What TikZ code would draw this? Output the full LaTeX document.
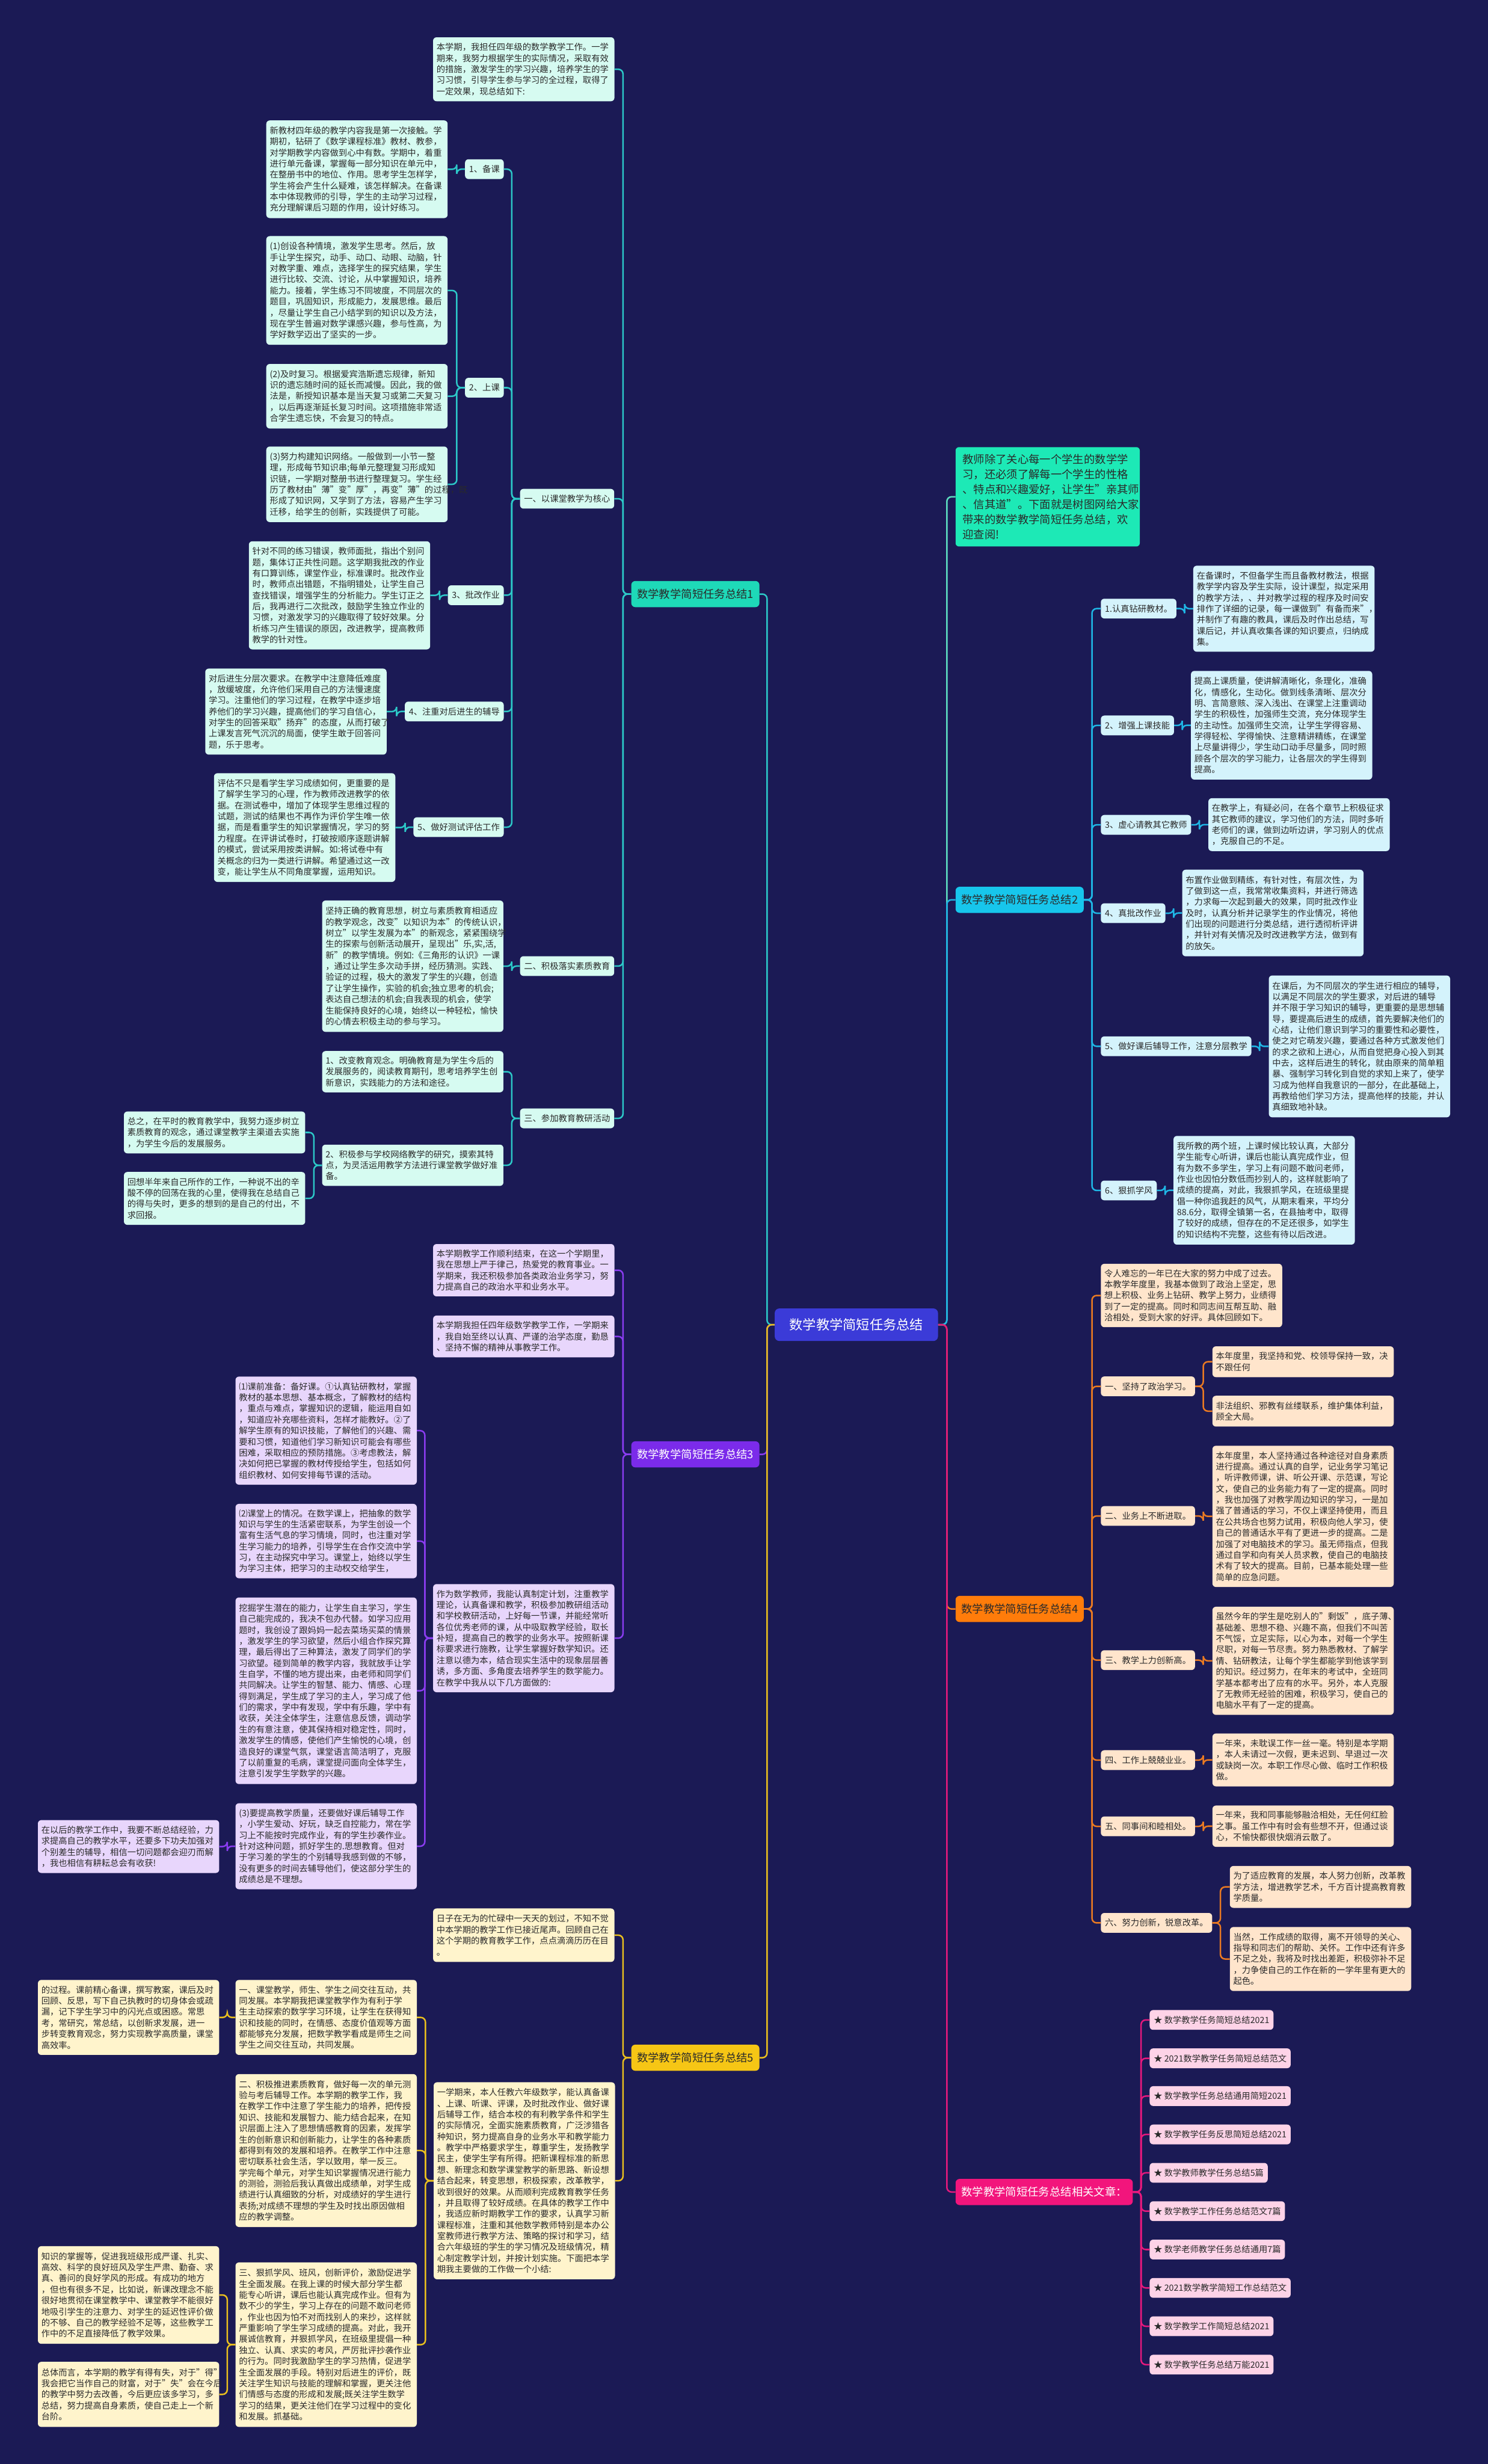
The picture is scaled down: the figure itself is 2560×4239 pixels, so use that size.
\documentclass[tikz,border=0pt]{standalone}
\usepackage{fontspec}
\setmainfont{Noto Sans CJK SC}
\definecolor{bgc}{HTML}{1B1A55}
\definecolor{txt}{HTML}{2A2A2A}
\definecolor{centerc}{HTML}{3B3BD8}
\definecolor{c1lab}{HTML}{1ED9B8}
\definecolor{c1line}{HTML}{2CC8C8}
\definecolor{c1box}{HTML}{D6FBF1}
\definecolor{introc}{HTML}{1DE9B6}
\definecolor{introline}{HTML}{5CDDC0}
\definecolor{c2lab}{HTML}{17C6EC}
\definecolor{c2line}{HTML}{1FB6E5}
\definecolor{c2box}{HTML}{D4F3FC}
\definecolor{c3lab}{HTML}{7B2BEA}
\definecolor{c3line}{HTML}{8A3CF0}
\definecolor{c3box}{HTML}{E8D6FC}
\definecolor{c4lab}{HTML}{FF7C0A}
\definecolor{c4line}{HTML}{EA7A22}
\definecolor{c4box}{HTML}{FFE5CC}
\definecolor{c5lab}{HTML}{F6C615}
\definecolor{c5line}{HTML}{E9BF1E}
\definecolor{c5box}{HTML}{FFF4CC}
\definecolor{c6lab}{HTML}{F2157C}
\definecolor{c6line}{HTML}{E5197D}
\definecolor{c6box}{HTML}{FDD3E7}
\tikzset{
 tbox/.style={rounded corners=6pt, inner xsep=6pt, inner ysep=0pt, text width=300pt, align=left, anchor=north west, font=\fontsize{14.8}{19}\selectfont, text=txt},
 lbl/.style={rounded corners=6pt, inner xsep=7pt, inner ysep=0pt, minimum height=34pt, font=\fontsize{14.8}{19}\selectfont, text=txt},
 blbl/.style={rounded corners=7pt, inner xsep=10pt, inner ysep=0pt, minimum height=45pt, font=\fontsize{19}{24}\selectfont, anchor=west},
 conn/.style={line width=2.6pt, rounded corners=8pt},
 item/.style={lbl, fill=c6box, anchor=west},
}
\newcommand\tbx[6]{\node[tbox,fill=#2,minimum height=#5pt] (#1) at (#3,#4) {#6};}
\newcommand\cnl[3]{\draw[conn,#1] (#2.west) -- ++(-14,0) |- (#3.east);}
\newcommand\cnr[3]{\draw[conn,#1] (#2.east) -- ++(14,0) |- (#3.west);}
\begin{document}
\begin{tikzpicture}[x=1pt,y=-1pt]
\fill[bgc] (0,0) rectangle (2560,4239);
\useasboundingbox (0,0) rectangle (2560,4239);

% center
\node[fill=centerc, text=white, rounded corners=8pt, minimum width=281pt, minimum height=56pt, inner sep=0pt, font=\fontsize{23}{28}\selectfont] (C) at (1473.5,2279) {数学教学简短任务总结};

% branch labels
\node[blbl, fill=c1lab, text=txt] (B1) at (1086,1022) {数学教学简短任务总结1};
\node[blbl, fill=c3lab, text=white] (B3) at (1086,2502) {数学教学简短任务总结3};
\node[blbl, fill=c5lab, text=txt] (B5) at (1086,3540) {数学教学简短任务总结5};
\node[blbl, fill=c2lab, text=txt] (B2) at (1644,1548) {数学教学简短任务总结2};
\node[blbl, fill=c4lab, text=txt] (B4) at (1644,2768) {数学教学简短任务总结4};
\node[blbl, fill=c6lab, text=white] (BR) at (1644,3771) {数学教学简短任务总结相关文章：};
\node[rounded corners=6pt, fill=introc, text=txt, anchor=north west, inner xsep=12pt, inner ysep=0pt, text width=293pt, minimum height=171pt, align=left, font=\fontsize{19}{25.7}\selectfont] (I) at (1644,769) {教师除了关心每一个学生的数学学\\习，还必须了解每一个学生的性格\\、特点和兴趣爱好，让学生"亲其师\\、信其道"。下面就是树图网给大家\\带来的数学教学简短任务总结，欢\\迎查阅!};

% ===== Branch 1 =====
\tbx{T0}{c1box}{745}{64}{110}{本学期，我担任四年级的数学教学工作。一学\\期来，我努力根据学生的实际情况，采取有效\\的措施，激发学生的学习兴趣，培养学生的学\\习习惯，引导学生参与学习的全过程，取得了\\一定效果，现总结如下:}
\node[lbl, fill=c1box, anchor=east] (L1) at (1057,858) {一、以课堂教学为核心};
\node[lbl, fill=c1box, anchor=east] (A1) at (867,291) {1、备课};
\node[lbl, fill=c1box, anchor=east] (A2) at (867,667) {2、上课};
\node[lbl, fill=c1box, anchor=east] (A3) at (867,1024) {3、批改作业};
\node[lbl, fill=c1box, anchor=east] (A4) at (867,1224) {4、注重对后进生的辅导};
\node[lbl, fill=c1box, anchor=east] (A5) at (867,1423) {5、做好测试评估工作};
\node[lbl, fill=c1box, anchor=east] (L2) at (1057,1662) {二、积极落实素质教育};
\node[lbl, fill=c1box, anchor=east] (L3) at (1057,1924) {三、参加教育教研活动};
\tbx{A1t}{c1box}{458}{207}{168}{新教材四年级的教学内容我是第一次接触。学\\期初，钻研了《数学课程标准》教材、教参，\\对学期教学内容做到心中有数。学期中，着重\\进行单元备课，掌握每一部分知识在单元中，\\在整册书中的地位、作用。思考学生怎样学，\\学生将会产生什么疑难，该怎样解决。在备课\\本中体现教师的引导，学生的主动学习过程，\\充分理解课后习题的作用，设计好练习。}
\tbx{A2a}{c1box}{458}{406}{187}{(1)创设各种情境，激发学生思考。然后，放\\手让学生探究，动手、动口、动眼、动脑，针\\对教学重、难点，选择学生的探究结果，学生\\进行比较、交流、讨论，从中掌握知识，培养\\能力。接着，学生练习不同坡度，不同层次的\\题目，巩固知识，形成能力，发展思维。最后\\，尽量让学生自己小结学到的知识以及方法，\\现在学生普遍对数学课感兴趣，参与性高，为\\学好数学迈出了坚实的一步。}
\tbx{A2b}{c1box}{458}{626}{111}{(2)及时复习。根据爱宾浩斯遗忘规律，新知\\识的遗忘随时间的延长而减慢。因此，我的做\\法是，新授知识基本是当天复习或第二天复习\\，以后再逐渐延长复习时间。这项措施非常适\\合学生遗忘快，不会复习的特点。}
\tbx{A2c}{c1box}{458}{768}{130}{(3)努力构建知识网络。一般做到一小节一整\\理，形成每节知识串;每单元整理复习形成知\\识链，一学期对整册书进行整理复习。学生经\\历了教材由"薄"变"厚"，再变"薄"的过程，既\\形成了知识网，又学到了方法，容易产生学习\\迁移，给学生的创新，实践提供了可能。}
\tbx{A3t}{c1box}{428}{931}{186}{针对不同的练习错误，教师面批，指出个别问\\题，集体订正共性问题。这学期我批改的作业\\有口算训练，课堂作业，标准课时。批改作业\\时，教师点出错题，不指明错处，让学生自己\\查找错误，增强学生的分析能力。学生订正之\\后，我再进行二次批改，鼓励学生独立作业的\\习惯，对激发学习的兴趣取得了较好效果。分\\析练习产生错误的原因，改进教学，提高教师\\教学的针对性。}
\tbx{A4t}{c1box}{353}{1150}{148}{对后进生分层次要求。在教学中注意降低难度\\，放缓坡度，允许他们采用自己的方法慢速度\\学习。注重他们的学习过程，在教学中逐步培\\养他们的学习兴趣，提高他们的学习自信心，\\对学生的回答采取"扬弃"的态度，从而打破了\\上课发言死气沉沉的局面，使学生敢于回答问\\题，乐于思考。}
\tbx{A5t}{c1box}{368}{1330}{187}{评估不只是看学生学习成绩如何，更重要的是\\了解学生学习的心理，作为教师改进教学的依\\据。在测试卷中，增加了体现学生思维过程的\\试题，测试的结果也不再作为评价学生唯一依\\据，而是看重学生的知识掌握情况，学习的努\\力程度。在评讲试卷时，打破按顺序逐题讲解\\的模式，尝试采用按类讲解。如:将试卷中有\\关概念的归为一类进行讲解。希望通过这一改\\变，能让学生从不同角度掌握，运用知识。}
\tbx{L2t}{c1box}{554}{1549}{226}{坚持正确的教育思想，树立与素质教育相适应\\的教学观念，改变"以知识为本"的传统认识，\\树立"以学生发展为本"的新观念，紧紧围绕学\\生的探索与创新活动展开，呈现出"乐,实,活,\\新"的教学情境。例如:《三角形的认识》一课\\，通过让学生多次动手拼，经历猜测。实践、\\验证的过程，极大的激发了学生的兴趣，创造\\了让学生操作，实验的机会;独立思考的机会;\\表达自己想法的机会;自我表现的机会，使学\\生能保持良好的心境，始终以一种轻松，愉快\\的心情去积极主动的参与学习。}
\tbx{L3a}{c1box}{554}{1808}{71}{1、改变教育观念。明确教育是为学生今后的\\发展服务的，阅读教育期刊，思考培养学生创\\新意识，实践能力的方法和途径。}
\tbx{L3b}{c1box}{554}{1969}{71}{2、积极参与学校网络教学的研究，摸索其特\\点，为灵活运用教学方法进行课堂教学做好准\\备。}
\tbx{L3b1}{c1box}{213}{1912}{72}{总之，在平时的教育教学中，我努力逐步树立\\素质教育的观念，通过课堂教学主渠道去实施\\，为学生今后的发展服务。}
\tbx{L3b2}{c1box}{213}{2016}{91}{回想半年来自己所作的工作，一种说不出的辛\\酸不停的回荡在我的心里，使得我在总结自己\\的得与失时，更多的想到的是自己的付出，不\\求回报。}

% ===== Branch 3 =====
\tbx{P1}{c3box}{745}{2140}{90}{本学期教学工作顺利结束，在这一个学期里，\\我在思想上严于律己，热爱党的教育事业。一\\学期来，我还积极参加各类政治业务学习，努\\力提高自己的政治水平和业务水平。}
\tbx{P2}{c3box}{745}{2263}{72}{本学期我担任四年级数学教学工作，一学期来\\，我自始至终以认真、严谨的治学态度，勤恳\\、坚持不懈的精神从事教学工作。}
\tbx{P3}{c3box}{745}{2725}{186}{作为数学教师，我能认真制定计划，注重教学\\理论，认真备课和教学，积极参加教研组活动\\和学校教研活动，上好每一节课，并能经常听\\各位优秀老师的课，从中吸取教学经验，取长\\补短，提高自己的教学的业务水平。按照新课\\标要求进行施教，让学生掌握好数学知识。还\\注意以德为本，结合现实生活中的现象层层善\\诱，多方面、多角度去培养学生的数学能力。\\在教学中我从以下几方面做的:}
\tbx{P3a}{c3box}{405}{2368}{186}{⑴课前准备：备好课。①认真钻研教材，掌握\\教材的基本思想、基本概念，了解教材的结构\\，重点与难点，掌握知识的逻辑，能运用自如\\，知道应补充哪些资料，怎样才能教好。②了\\解学生原有的知识技能，了解他们的兴趣、需\\要和习惯，知道他们学习新知识可能会有哪些\\困难，采取相应的预防措施。③考虑教法，解\\决如何把已掌握的教材传授给学生，包括如何\\组织教材、如何安排每节课的活动。}
\tbx{P3b}{c3box}{405}{2587}{128}{⑵课堂上的情况。在数学课上，把抽象的数学\\知识与学生的生活紧密联系，为学生创设一个\\富有生活气息的学习情境，同时，也注重对学\\生学习能力的培养，引导学生在合作交流中学\\习，在主动探究中学习。课堂上，始终以学生\\为学习主体，把学习的主动权交给学生，}
\tbx{P3c}{c3box}{405}{2748}{321}{挖掘学生潜在的能力，让学生自主学习，学生\\自己能完成的，我决不包办代替。如学习应用\\题时，我创设了跟妈妈一起去菜场买菜的情景\\，激发学生的学习欲望，然后小组合作探究算\\理，最后得出了三种算法，激发了同学们的学\\习欲望。碰到简单的教学内容，我就放手让学\\生自学，不懂的地方提出来，由老师和同学们\\共同解决。让学生的智慧、能力、情感、心理\\得到满足，学生成了学习的主人，学习成了他\\们的需求，学中有发现，学中有乐趣，学中有\\收获，关注全体学生，注意信息反馈，调动学\\生的有意注意，使其保持相对稳定性，同时，\\激发学生的情感，使他们产生愉悦的心境，创\\造良好的课堂气氛，课堂语言简洁明了，克服\\了以前重复的毛病，课堂提问面向全体学生，\\注意引发学生学数学的兴趣。}
\tbx{P3d}{c3box}{405}{3102}{148}{(3)要提高教学质量，还要做好课后辅导工作\\，小学生爱动、好玩，缺乏自控能力，常在学\\习上不能按时完成作业，有的学生抄袭作业。\\针对这种问题，抓好学生的.思想教育。但对\\于学习差的学生的个别辅导我感到做的不够，\\没有更多的时间去辅导他们，使这部分学生的\\成绩总是不理想。}
\tbx{P3d1}{c3box}{65}{3131}{91}{在以后的教学工作中，我要不断总结经验，力\\求提高自己的教学水平，还要多下功夫加强对\\个别差生的辅导，相信一切问题都会迎刃而解\\，我也相信有耕耘总会有收获!}

% ===== Branch 5 =====
\tbx{Y1}{c5box}{745}{3283}{92}{日子在无为的忙碌中一天天的划过，不知不觉\\中本学期的教学工作已接近尾声。回顾自己在\\这个学期的教育教学工作，点点滴滴历历在目\\。}
\tbx{Y2}{c5box}{746}{3582}{339}{一学期来，本人任教六年级数学，能认真备课\\、上课、听课、评课，及时批改作业、做好课\\后辅导工作，结合本校的有利教学条件和学生\\的实际情况，全面实施素质教育，广泛涉猎各\\种知识，努力提高自身的业务水平和教学能力\\。教学中严格要求学生，尊重学生，发扬教学\\民主，使学生学有所得。把新课程标准的新思\\想、新理念和数学课堂教学的新思路、新设想\\结合起来，转变思想，积极探索，改革教学，\\收到很好的效果。从而顺利完成教育教学任务\\，并且取得了较好成绩。在具体的教学工作中\\，我适应新时期教学工作的要求，认真学习新\\课程标准，注重和其他数学教师特别是本办公\\室教师进行教学方法、策略的探讨和学习，结\\合六年级班的学生的学习情况及班级情况，精\\心制定教学计划，并按计划实施。下面把本学\\期我主要做的工作做一个小结:}
\tbx{Y2a}{c5box}{405}{3406}{129}{一、课堂教学，师生、学生之间交往互动，共\\同发展。本学期我把课堂教学作为有利于学\\生主动探索的数学学习环境，让学生在获得知\\识和技能的同时，在情感、态度价值观等方面\\都能够充分发展，把数学教学看成是师生之间\\学生之间交往互动，共同发展。}
\tbx{Y2a1}{c5box}{65}{3406}{129}{的过程。课前精心备课，撰写教案，课后及时\\回顾、反思，写下自己执教时的切身体会或疏\\漏，记下学生学习中的闪光点或困惑。常思\\考，常研究，常总结，以创新求发展，进一\\步转变教育观念，努力实现教学高质量，课堂\\高效率。}
\tbx{Y2b}{c5box}{405}{3568}{263}{二、积极推进素质教育，做好每一次的单元测\\验与考后辅导工作。本学期的教学工作，我\\在教学工作中注意了学生能力的培养，把传授\\知识、技能和发展智力、能力结合起来，在知\\识层面上注入了思想情感教育的因素，发挥学\\生的创新意识和创新能力，让学生的各种素质\\都得到有效的发展和培养。在教学工作中注意\\密切联系社会生活，学以致用，举一反三。\\学完每个单元，对学生知识掌握情况进行能力\\的测验，测验后我认真做出成绩单，对学生成\\绩进行认真细致的分析，对成绩好的学生进行\\表扬;对成绩不理想的学生及时找出原因做相\\应的教学调整。}
\tbx{Y2c}{c5box}{405}{3892}{283}{三、狠抓学风、班风，创新评价，激励促进学\\生全面发展。在我上课的时候大部分学生都\\能专心听讲，课后也能认真完成作业。但有为\\数不少的学生，学习上存在的问题不敢问老师\\，作业也因为怕不对而找别人的来抄，这样就\\严重影响了学生学习成绩的提高。对此，我开\\展诚信教育，并狠抓学风，在班级里提倡一种\\独立、认真、求实的考风，严厉批评抄袭作业\\的行为。同时我激励学生的学习热情，促进学\\生全面发展的手段。特别对后进生的评价，既\\关注学生知识与技能的理解和掌握，更关注他\\们情感与态度的形成和发展;既关注学生数学\\学习的结果，更关注他们在学习过程中的变化\\和发展。抓基础。}
\tbx{Y2c1}{c5box}{65}{3864}{168}{知识的掌握等，促进我班级形成严谨、扎实、\\高效、科学的良好班风及学生严肃、勤奋、求\\真、善问的良好学风的形成。有成功的地方\\，但也有很多不足，比如说，新课改理念不能\\很好地贯彻在课堂教学中、课堂教学不能很好\\地吸引学生的注意力、对学生的延迟性评价做\\的不够、自己的教学经验不足等，这些教学工\\作中的不足直接降低了教学效果。}
\tbx{Y2c2}{c5box}{65}{4063}{112}{总体而言，本学期的教学有得有失，对于"得"\\我会把它当作自己的财富，对于"失"会在今后\\的教学中努力去改善，今后更应该多学习，多\\总结，努力提高自身素质，使自己走上一个新\\台阶。}

% ===== Branch 2 =====
\node[lbl, fill=c2box, anchor=west] (R1) at (1894,1047) {1.认真钻研教材。};
\node[lbl, fill=c2box, anchor=west] (R2) at (1894,1248) {2、增强上课技能};
\node[lbl, fill=c2box, anchor=west] (R3) at (1894,1419) {3、虚心请教其它教师};
\node[lbl, fill=c2box, anchor=west] (R4) at (1894,1571) {4、真批改作业};
\node[lbl, fill=c2box, anchor=west] (R5) at (1894,1800) {5、做好课后辅导工作，注意分层教学};
\node[lbl, fill=c2box, anchor=west] (R6) at (1894,2048) {6、狠抓学风};
\tbx{R1t}{c2box}{2053}{973}{148}{在备课时，不但备学生而且备教材教法，根据\\教学学内容及学生实际，设计课型，拟定采用\\的教学方法，、并对教学过程的程序及时间安\\排作了详细的记录，每一课做到"有备而来"，\\并制作了有趣的教具，课后及时作出总结，写\\课后记，并认真收集各课的知识要点，归纳成\\集。}
\tbx{R2t}{c2box}{2049}{1154}{187}{提高上课质量，使讲解清晰化，条理化，准确\\化，情感化，生动化。做到线条清晰、层次分\\明、言简意赅、深入浅出、在课堂上注重调动\\学生的积极性，加强师生交流，充分体现学生\\的主动性。加强师生交流，让学生学得容易、\\学得轻松、学得愉快、注意精讲精练，在课堂\\上尽量讲得少，学生动口动手尽量多，同时照\\顾各个层次的学习能力，让各层次的学生得到\\提高。}
\tbx{R3t}{c2box}{2079}{1373}{91}{在教学上，有疑必问，在各个章节上积极征求\\其它教师的建议，学习他们的方法，同时多听\\老师们的课，做到边听边讲，学习别人的优点\\，克服自己的不足。}
\tbx{R4t}{c2box}{2034}{1496}{149}{布置作业做到精练，有针对性，有层次性，为\\了做到这一点，我常常收集资料，并进行筛选\\，力求每一次起到最大的效果，同时批改作业\\及时，认真分析并记录学生的作业情况，将他\\们出现的问题进行分类总结，进行透彻析评讲\\，并针对有关情况及时改进教学方法，做到有\\的放矢。}
\tbx{R5t}{c2box}{2183}{1678}{244}{在课后，为不同层次的学生进行相应的辅导，\\以满足不同层次的学生要求，对后进的辅导\\并不限于学习知识的辅导，更重要的是思想辅\\导，要提高后进生的成绩，首先要解决他们的\\心结，让他们意识到学习的重要性和必要性，\\使之对它萌发兴趣，要通过各种方式激发他们\\的求之欲和上进心，从而自觉把身心投入到其\\中去，这样后进生的转化，就由原来的简单粗\\暴、强制学习转化到自觉的求知上来了，使学\\习成为他样自我意识的一部分，在此基础上，\\再教给他们学习方法，提高他样的技能，并认\\真细致地补缺。}
\tbx{R6t}{c2box}{2019}{1954}{187}{我所教的两个班，上课时候比较认真，大部分\\学生能专心听讲，课后也能认真完成作业，但\\有为数不多学生，学习上有问题不敢问老师，\\作业也因怕分数低而抄别人的，这样就影响了\\成绩的提高，对此，我狠抓学风，在班级里提\\倡一种你追我赶的风气，从期末看来，平均分\\88.6分，取得全镇第一名，在县抽考中，取得\\了较好的成绩，但存在的不足还很多，如学生\\的知识结构不完整，这些有待以后改进。}

% ===== Branch 4 =====
\tbx{O0}{c4box}{1894}{2174}{109}{令人难忘的一年已在大家的努力中成了过去。\\本教学年度里，我基本做到了政治上坚定，思\\想上积极、业务上钻研、教学上努力，业绩得\\到了一定的提高。同时和同志间互帮互助、融\\洽相处，受到大家的好评。具体回顾如下。}
\node[lbl, fill=c4box, anchor=west] (O1) at (1894,2385) {一、坚持了政治学习。};
\node[lbl, fill=c4box, anchor=west] (O2) at (1894,2608) {二、业务上不断进取。};
\node[lbl, fill=c4box, anchor=west] (O3) at (1894,2856) {三、教学上力创新高。};
\node[lbl, fill=c4box, anchor=west] (O4) at (1894,3028) {四、工作上兢兢业业。};
\node[lbl, fill=c4box, anchor=west] (O5) at (1894,3142) {五、同事间和睦相处。};
\node[lbl, fill=c4box, anchor=west] (O6) at (1894,3308) {六、努力创新，锐意改革。};
\tbx{O1a}{c4box}{2086}{2316}{53}{本年度里，我坚持和党、校领导保持一致，决\\不跟任何}
\tbx{O1b}{c4box}{2086}{2401}{53}{非法组织、邪教有丝缕联系，维护集体利益，\\顾全大局。}
\tbx{O2t}{c4box}{2086}{2487}{243}{本年度里，本人坚持通过各种途径对自身素质\\进行提高。通过认真的自学，记业务学习笔记\\，听评教师课，讲、听公开课、示范课，写论\\文，使自己的业务能力有了一定的提高。同时\\，我也加强了对教学周边知识的学习，一是加\\强了普通话的学习，不仅上课坚持使用，而且\\在公共场合也努力试用，积极向他人学习，使\\自己的普通话水平有了更进一步的提高。二是\\加强了对电脑技术的学习。虽无师指点，但我\\通过自学和向有关人员求教，使自己的电脑技\\术有了较大的提高。目前，已基本能处理一些\\简单的应急问题。}
\tbx{O3t}{c4box}{2086}{2764}{186}{虽然今年的学生是吃别人的"剩饭"，底子薄、\\基础差、思想不稳、兴趣不高，但我们不叫苦\\不气馁，立足实际，以心为本，对每一个学生\\尽职，对每一节尽责。努力熟悉教材、了解学\\情、钻研教法，让每个学生都能学到他该学到\\的知识。经过努力，在年末的考试中，全班同\\学基本都考出了应有的水平。另外，本人克服\\了无教师无经验的困难，积极学习，使自己的\\电脑水平有了一定的提高。}
\tbx{O4t}{c4box}{2086}{2982}{91}{一年来，未耽误工作一丝一毫。特别是本学期\\，本人未请过一次假，更未迟到、早退过一次\\或缺岗一次。本职工作尽心做、临时工作积极\\做。}
\tbx{O5t}{c4box}{2086}{3106}{71}{一年来，我和同事能够融洽相处，无任何红脸\\之事。虽工作中有时会有些想不开，但通过谈\\心，不愉快都很快烟消云散了。}
\tbx{O6a}{c4box}{2116}{3210}{72}{为了适应教育的发展，本人努力创新，改革教\\学方法，增进教学艺术，千方百计提高教育教\\学质量。}
\tbx{O6b}{c4box}{2116}{3315}{110}{当然，工作成绩的取得，离不开领导的关心、\\指导和同志们的帮助、关怀。工作中还有许多\\不足之处，我将及时找出差距，积极弥补不足\\，力争使自己的工作在新的一学年里有更大的\\起色。}

% ===== Related =====
\node[item] (K1) at (1978,3475) {★ 数学教学任务简短总结2021};
\node[item] (K2) at (1978,3541) {★ 2021数学教学任务简短总结范文};
\node[item] (K3) at (1978,3606) {★ 数学教学任务总结通用简短2021};
\node[item] (K4) at (1978,3672) {★ 数学教学任务反思简短总结2021};
\node[item] (K5) at (1978,3738) {★ 数学教师教学任务总结5篇};
\node[item] (K6) at (1978,3804) {★ 数学教学工作任务总结范文7篇};
\node[item] (K7) at (1978,3870) {★ 数学老师教学任务总结通用7篇};
\node[item] (K8) at (1978,3936) {★ 2021数学教学简短工作总结范文};
\node[item] (K9) at (1978,4002) {★ 数学教学工作简短总结2021};
\node[item] (K10) at (1978,4068) {★ 数学教学任务总结万能2021};

% ===== connectors =====
\draw[conn,c1line] (C.west) -- ++(-13,0) |- (B1.east);
\draw[conn,c3line] (C.west) -- ++(-13,0) |- (B3.east);
\draw[conn,c5line] (C.west) -- ++(-13,0) |- (B5.east);
\draw[conn,introline] (C.east) -- ++(15,0) |- (I.west);
\draw[conn,c2line] (C.east) -- ++(15,0) |- (B2.west);
\draw[conn,c4line] (C.east) -- ++(15,0) |- (B4.west);
\draw[conn,c6line] (C.east) -- ++(15,0) |- (BR.west);

\cnl{c1line}{B1}{T0}
\cnl{c1line}{B1}{L1}
\cnl{c1line}{B1}{L2}
\cnl{c1line}{B1}{L3}
\cnl{c1line}{L1}{A1}
\cnl{c1line}{L1}{A2}
\cnl{c1line}{L1}{A3}
\cnl{c1line}{L1}{A4}
\cnl{c1line}{L1}{A5}
\cnl{c1line}{A1}{A1t}
\cnl{c1line}{A2}{A2a}
\cnl{c1line}{A2}{A2b}
\cnl{c1line}{A2}{A2c}
\cnl{c1line}{A3}{A3t}
\cnl{c1line}{A4}{A4t}
\cnl{c1line}{A5}{A5t}
\cnl{c1line}{L2}{L2t}
\cnl{c1line}{L3}{L3a}
\cnl{c1line}{L3}{L3b}
\cnl{c1line}{L3b}{L3b1}
\cnl{c1line}{L3b}{L3b2}

\cnl{c3line}{B3}{P1}
\cnl{c3line}{B3}{P2}
\cnl{c3line}{B3}{P3}
\cnl{c3line}{P3}{P3a}
\cnl{c3line}{P3}{P3b}
\cnl{c3line}{P3}{P3c}
\cnl{c3line}{P3}{P3d}
\cnl{c3line}{P3d}{P3d1}

\cnl{c5line}{B5}{Y1}
\cnl{c5line}{B5}{Y2}
\cnl{c5line}{Y2}{Y2a}
\cnl{c5line}{Y2}{Y2b}
\cnl{c5line}{Y2}{Y2c}
\cnl{c5line}{Y2a}{Y2a1}
\cnl{c5line}{Y2c}{Y2c1}
\cnl{c5line}{Y2c}{Y2c2}

\cnr{c2line}{B2}{R1}
\cnr{c2line}{B2}{R2}
\cnr{c2line}{B2}{R3}
\cnr{c2line}{B2}{R4}
\cnr{c2line}{B2}{R5}
\cnr{c2line}{B2}{R6}
\cnr{c2line}{R1}{R1t}
\cnr{c2line}{R2}{R2t}
\cnr{c2line}{R3}{R3t}
\cnr{c2line}{R4}{R4t}
\cnr{c2line}{R5}{R5t}
\cnr{c2line}{R6}{R6t}

\cnr{c4line}{B4}{O0}
\cnr{c4line}{B4}{O1}
\cnr{c4line}{B4}{O2}
\cnr{c4line}{B4}{O3}
\cnr{c4line}{B4}{O4}
\cnr{c4line}{B4}{O5}
\cnr{c4line}{B4}{O6}
\cnr{c4line}{O1}{O1a}
\cnr{c4line}{O1}{O1b}
\cnr{c4line}{O2}{O2t}
\cnr{c4line}{O3}{O3t}
\cnr{c4line}{O4}{O4t}
\cnr{c4line}{O5}{O5t}
\cnr{c4line}{O6}{O6a}
\cnr{c4line}{O6}{O6b}

\cnr{c6line}{BR}{K1}
\cnr{c6line}{BR}{K2}
\cnr{c6line}{BR}{K3}
\cnr{c6line}{BR}{K4}
\cnr{c6line}{BR}{K5}
\cnr{c6line}{BR}{K6}
\cnr{c6line}{BR}{K7}
\cnr{c6line}{BR}{K8}
\cnr{c6line}{BR}{K9}
\cnr{c6line}{BR}{K10}
\end{tikzpicture}
\end{document}
